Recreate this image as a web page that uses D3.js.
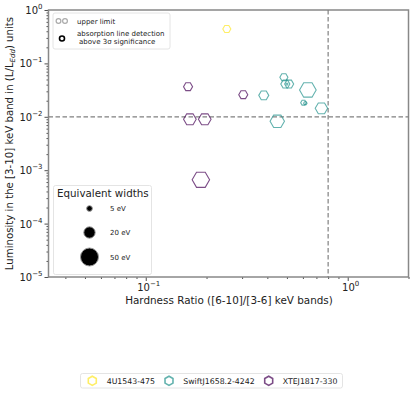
<!DOCTYPE html>
<html><head><meta charset="utf-8">
<script src="https://cdn.jsdelivr.net/npm/d3@7"></script>
<style>body{margin:0;background:#fff}svg{display:block;font-family:"DejaVu Sans",sans-serif}</style>
</head><body><svg id="c" width="415" height="394"></svg>
<script>
// ---- data ----
const sources = ["4U1543-475", "SwiftJ1658.2-4242", "XTEJ1817-330"];
const sourceColors = ["#fde725", "#21918c", "#440154"];
// hardness ratio, luminosity (L/LEdd), equivalent width (eV)
const hr4U = [0.252];
const lum4U = [0.44];
const ew4U = [10];
const hrSwift = [0.384, 0.483, 0.491, 0.513, 0.500, 0.635, 0.604, 0.617, 0.741, 0.448];
const lumSwift = [0.0252, 0.055, 0.041, 0.041, 0.041, 0.0318, 0.0184, 0.0180, 0.0144, 0.00823];
const ewSwift = [15.5, 10, 12.6, 12.6, 0.6, 42.7, 4.9, 1.8, 23.8, 32];
const hrXTE = [0.162, 0.1654, 0.196, 0.304, 0.1875];
const lumXTE = [0.0366, 0.00898, 0.00898, 0.0259, 0.00066];
const ewXTE = [12.6, 24.6, 24.6, 12.6, 47];
const ewLegend = [5, 20, 50];
const xMajor = [0.1, 1];
const yMajor = [1e-5, 1e-4, 1e-3, 1e-2, 1e-1, 1];
const hrThreshold = 0.8;
const lumThreshold = 0.01;

const svg = d3.select("#c");
const L = 48.5, R = 408.5, T = 10, B = 277;
const x = d3.scaleLog().domain([0.033, 2]).range([L, R]);
const y = d3.scaleLog().domain([1e-5, 1]).range([B, T]);
const rS = d3.scaleSqrt().domain([0, 50]).range([0, 9]);

function hexPath(cx, cy, r, flat) {
  const pts = d3.range(6).map(i => {
    const a = (flat ? 0 : Math.PI / 6) + i * Math.PI / 3;
    return [cx + r * Math.cos(a), cy + r * Math.sin(a)];
  });
  return "M" + pts.map(p => p.join(",")).join("L") + "Z";
}

// minor ticks
const xMinor = [];
[0.01, 0.1, 1].forEach(d => { for (let k = 2; k <= 9; k++) { const v = d * k; if (v >= 0.033 && v <= 2 && ![0.1,1].includes(v)) xMinor.push(v); } });
const yMinor = [];
[1e-5, 1e-4, 1e-3, 1e-2, 1e-1].forEach(d => { for (let k = 2; k <= 9; k++) yMinor.push(d * k); });

const gx = svg.append("g").attr("transform", `translate(0,${B})`);
gx.call(d3.axisBottom(x).tickValues(xMinor).tickSize(2).tickFormat(""));
gx.append("g").call(d3.axisBottom(x).tickValues(xMajor).tickSize(4).tickFormat(""));
const gy = svg.append("g").attr("transform", `translate(${L},0)`);
gy.call(d3.axisLeft(y).tickValues(yMinor).tickSize(2).tickFormat(""));
gy.append("g").call(d3.axisLeft(y).tickValues(yMajor).tickSize(4).tickFormat(""));
svg.selectAll(".domain").remove();
svg.selectAll(".tick line").attr("stroke", "#222").attr("stroke-width", 0.8);

function expLabel(sel, v) {
  const e = Math.round(Math.log10(v));
  sel.append("tspan").text("10");
  sel.append("tspan").attr("dy", -5).attr("font-size", 7).text(e < 0 ? "\u2212" + (-e) : String(e));
}
xMajor.forEach(v => {
  const t = svg.append("text").attr("x", x(v) + 3).attr("y", B + 14).attr("text-anchor", "middle").attr("font-size", 10).attr("fill", "#222");
  expLabel(t, v);
});
yMajor.forEach(v => {
  const t = svg.append("text").attr("x", L - 6).attr("y", y(v) + 4).attr("text-anchor", "end").attr("font-size", 10).attr("fill", "#222");
  expLabel(t, v);
});

// spines
svg.append("rect").attr("x", L).attr("y", T).attr("width", R - L).attr("height", B - T)
  .attr("fill", "none").attr("stroke", "#888").attr("stroke-width", 1.5);

// threshold lines
svg.append("line").attr("x1", L).attr("x2", R).attr("y1", y(lumThreshold)).attr("y2", y(lumThreshold))
  .attr("stroke", "#808080").attr("stroke-width", 1.2).attr("stroke-dasharray", "4.5,2.5");
svg.append("line").attr("x1", x(hrThreshold)).attr("x2", x(hrThreshold)).attr("y1", T).attr("y2", B)
  .attr("stroke", "#808080").attr("stroke-width", 1.2).attr("stroke-dasharray", "4.5,2.5");

// points
const series = [[hr4U, lum4U, ew4U], [hrSwift, lumSwift, ewSwift], [hrXTE, lumXTE, ewXTE]];
series.forEach((s, si) => {
  s[0].forEach((hx, i) => {
    svg.append("path").attr("d", hexPath(x(hx), y(s[1][i]), rS(s[2][i]), true))
      .attr("fill", "none").attr("stroke", sourceColors[si]).attr("stroke-opacity", 0.7).attr("stroke-width", 1.1);
  });
});

// axis labels
svg.append("text").attr("x", 229).attr("y", 304).attr("text-anchor", "middle").attr("font-size", 10.4).attr("fill", "#222")
  .text("Hardness Ratio ([6-10]/[3-6] keV bands)");
const yl = svg.append("text").attr("transform", `translate(13,${(T + B) / 2}) rotate(-90)`).attr("text-anchor", "middle")
  .attr("font-size", 10.2).attr("fill", "#222");
yl.append("tspan").text("Luminosity in the [3-10] keV band in (L/L");
yl.append("tspan").attr("font-size", 7).attr("font-style", "italic").attr("dy", 2).text("Edd");
yl.append("tspan").attr("dy", -2).text(") units");

// upper-left legend
svg.append("rect").attr("x", 53).attr("y", 13).attr("width", 117).attr("height", 36).attr("rx", 2)
  .attr("fill", "#fff").attr("fill-opacity", 0.8).attr("stroke", "#ddd").attr("stroke-width", 0.8);
[58.5, 65].forEach(cx => svg.append("circle").attr("cx", cx).attr("cy", 21).attr("r", 2.4)
  .attr("fill", "none").attr("stroke", "#aaa").attr("stroke-width", 1.2));
svg.append("circle").attr("cx", 62).attr("cy", 38.5).attr("r", 2.5).attr("fill", "none").attr("stroke", "#000").attr("stroke-width", 1.6);
svg.append("text").attr("x", 77).attr("y", 24).attr("font-size", 7).attr("fill", "#222").text("upper limit");
svg.append("text").attr("x", 77).attr("y", 36).attr("font-size", 7).attr("fill", "#222").text("absorption line detection");
svg.append("text").attr("x", 79).attr("y", 44).attr("font-size", 7).attr("fill", "#222").text("above 3\u03c3 significance");

// equivalent width legend
svg.append("rect").attr("x", 53.5).attr("y", 185.5).attr("width", 98).attr("height", 89).attr("rx", 2)
  .attr("fill", "#fff").attr("fill-opacity", 0.8).attr("stroke", "#ddd").attr("stroke-width", 0.8);
svg.append("text").attr("x", 57).attr("y", 197).attr("font-size", 10.3).attr("fill", "#222").text("Equivalent widths");
const legY = [208.5, 232.5, 257];
ewLegend.forEach((ew, i) => {
  svg.append("circle").attr("cx", 89.5).attr("cy", legY[i]).attr("r", rS(ew)).attr("fill", "#000")
    .attr("stroke", "#999").attr("stroke-width", 1);
  svg.append("text").attr("x", 110).attr("y", legY[i] + 2.5).attr("font-size", 7).attr("fill", "#222").text(ew + " eV");
});

// bottom legend
svg.append("rect").attr("x", 80.5).attr("y", 373.5).attr("width", 262).attr("height", 14.5).attr("rx", 2)
  .attr("fill", "#fff").attr("stroke", "#ddd").attr("stroke-width", 0.8);
const lgX = [92.3, 169, 268.7], lgT = [106.7, 183.3, 282.7];
sources.forEach((s, i) => {
  svg.append("path").attr("d", hexPath(lgX[i], 380.8, 4.6, false)).attr("fill", "none")
    .attr("stroke", sourceColors[i]).attr("stroke-opacity", 0.7).attr("stroke-width", 1.6);
  svg.append("text").attr("x", lgT[i]).attr("y", 383.5).attr("font-size", 7.8).attr("fill", "#222").text(s);
});
</script></body></html>
